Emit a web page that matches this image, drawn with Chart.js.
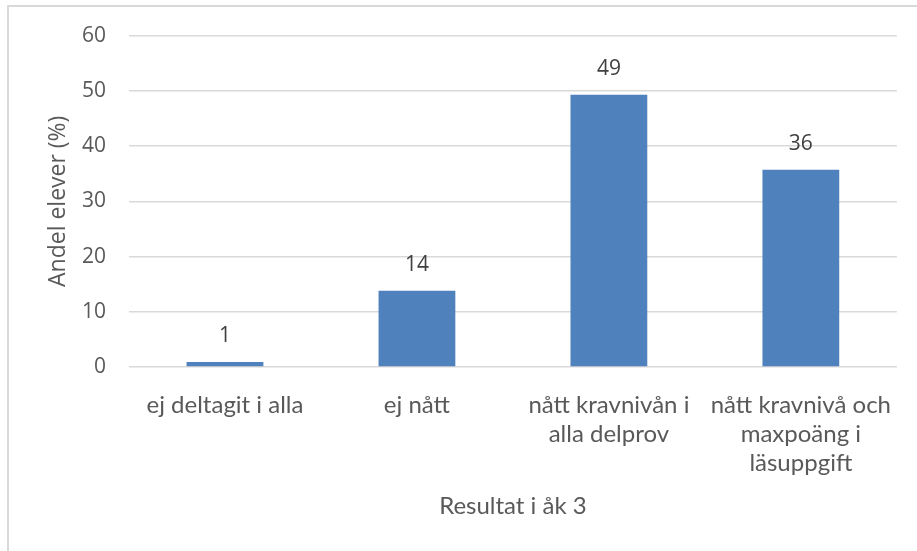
<!DOCTYPE html>
<html>
<head>
<meta charset="utf-8">
<script src="https://cdn.jsdelivr.net/npm/chart.js@4/dist/chart.umd.min.js"></script>
<style>
  html, body { margin: 0; padding: 0; background: #ffffff; }
  #wrap { position: relative; width: 917px; height: 551px; overflow: hidden; }
  #frame { position: absolute; left: 7px; top: 5px; width: 920px; height: 560px; border: 2px solid #d9d9d9; box-sizing: border-box; }
  canvas { position: absolute; left: 0; top: 0; }
</style>
</head>
<body>
<div id="wrap">
  <div id="frame"></div>
  <canvas id="c" width="917" height="551"></canvas>
</div>
<script>
const categories = [
  ["ej deltagit i alla"],
  ["ej nått"],
  ["nått kravnivån i", "alla delprov"],
  ["nått kravnivå och", "maxpoäng i", "läsuppgift"]
];
const values = [0.9, 13.8, 49.3, 35.7];
const yTicks = { min: 0, max: 60, step: 10 };
const xTitle = "Resultat i åk 3";
const yTitle = "Andel elever (%)";

const barLabels = {
  id: 'barLabels',
  afterDatasetsDraw(chart) {
    const ctx = chart.ctx;
    const meta = chart.getDatasetMeta(0);
    ctx.save();
    ctx.font = '21px "Open Sans"';
    ctx.fillStyle = '#404040';
    ctx.textAlign = 'center';
    ctx.textBaseline = 'middle';
    meta.data.forEach((el, i) => {
      ctx.fillText(Math.round(values[i]).toString(), el.x, el.y - 26);
    });
    ctx.restore();
  }
};

new Chart(document.getElementById('c'), {
  type: 'bar',
  data: {
    labels: categories,
    datasets: [{
      data: values,
      backgroundColor: '#4f81bd',
      borderWidth: 0,
      categoryPercentage: 1.0,
      barPercentage: 0.4
    }]
  },
  options: {
    responsive: false,
    animation: false,
    devicePixelRatio: 1,
    layout: { padding: { left: 0, top: 34, right: 16, bottom: 0 } },
    plugins: { legend: { display: false }, tooltip: { enabled: false } },
    scales: {
      x: {
        grid: { display: false, drawTicks: false },
        border: { display: false },
        ticks: {
          color: '#595959',
          font: { family: 'Lato', size: 24 },
          padding: 24,
          maxRotation: 0,
          autoSkip: false
        },
        title: {
          display: true,
          text: xTitle,
          color: '#595959',
          font: { family: 'Lato', size: 24, lineHeight: 1.25 },
          padding: { top: 0, bottom: 30 }
        },
        afterFit(scale) { scale.height = 184; }
      },
      y: {
        min: yTicks.min,
        max: yTicks.max,
        grid: { color: '#d9d9d9', lineWidth: 1.5, drawTicks: false },
        border: { display: false },
        ticks: {
          stepSize: yTicks.step,
          color: '#595959',
          font: { family: 'Open Sans', size: 21 },
          padding: 23
        },
        title: {
          display: true,
          text: yTitle,
          color: '#595959',
          font: { family: 'Open Sans', size: 23, lineHeight: 1.2 },
          padding: { top: 45, bottom: 0 }
        },
        afterFit(scale) { scale.width = 129; }
      }
    }
  },
  plugins: [barLabels]
});
</script>
</body>
</html>
